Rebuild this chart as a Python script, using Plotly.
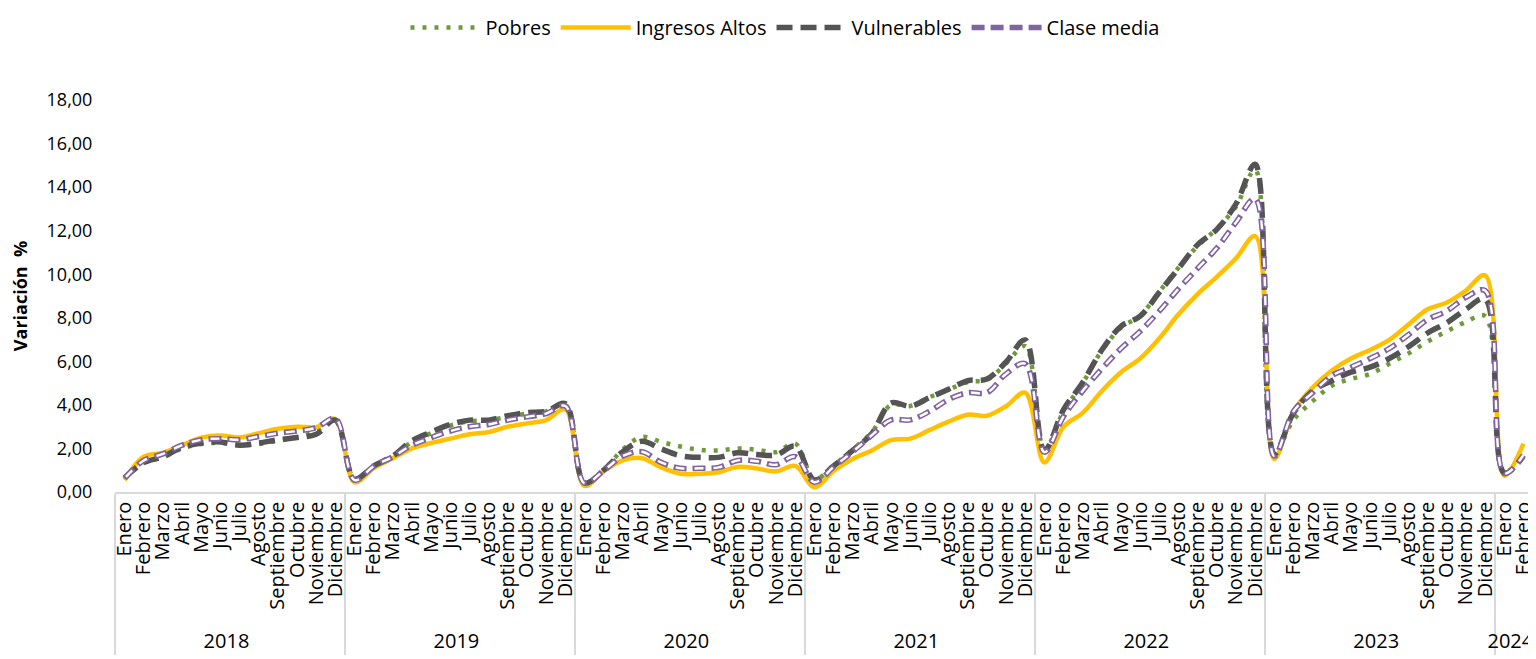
import plotly.graph_objects as go

years = ["2018", "2019", "2020", "2021", "2022", "2023", "2024"]
months = ["Enero", "Febrero", "Marzo", "Abril", "Mayo", "Junio", "Julio",
          "Agosto", "Septiembre", "Octubre", "Noviembre", "Diciembre"]
months_2024 = ["Enero", "Febrero"]

pobres = [0.60, 1.35, 1.60, 2.00, 2.20, 2.25, 2.15, 2.20, 2.35, 2.50, 2.80, 3.25,
          0.62, 1.20, 1.65, 2.30, 2.70, 3.05, 3.25, 3.30, 3.45, 3.60, 3.70, 4.00,
          0.45, 1.02, 1.95, 2.53, 2.30, 2.09, 1.94, 1.91, 2.00, 1.94, 1.83, 2.22,
          0.58, 1.22, 1.95, 2.75, 4.00, 3.95, 4.35, 4.70, 5.05, 5.15, 5.90, 6.70,
          1.95, 3.70, 5.00, 6.50, 7.55, 8.10, 9.20, 10.30, 11.30, 12.10, 13.10, 14.80,
          1.80, 3.31, 4.17, 4.88, 5.19, 5.42, 5.89, 6.36, 6.91, 7.38, 7.81, 8.08,
          0.90, 1.75]
ingresos_altos = [0.55, 1.62, 1.80, 2.15, 2.50, 2.60, 2.50, 2.70, 2.90, 3.00, 2.98, 3.35,
                  0.45, 1.10, 1.55, 2.00, 2.25, 2.45, 2.65, 2.75, 3.00, 3.15, 3.30, 3.80,
                  0.28, 0.95, 1.45, 1.55, 1.13, 0.84, 0.84, 0.91, 1.15, 1.08, 0.95, 1.20,
                  0.22, 0.97, 1.52, 1.91, 2.38, 2.45, 2.84, 3.23, 3.55, 3.50, 3.94, 4.56,
                  1.36, 3.00, 3.63, 4.64, 5.50, 6.13, 7.06, 8.16, 9.09, 9.88, 10.73, 11.75,
                  1.52, 3.70, 4.80, 5.58, 6.13, 6.52, 6.98, 7.69, 8.39, 8.70, 9.25, 9.95,
                  0.75, 2.22]
vulnerables = [0.65, 1.35, 1.62, 2.05, 2.25, 2.30, 2.15, 2.25, 2.40, 2.50, 2.65, 3.30,
               0.60, 1.20, 1.65, 2.35, 2.75, 3.10, 3.30, 3.30, 3.50, 3.65, 3.70, 4.05,
               0.42, 1.00, 1.85, 2.33, 1.98, 1.67, 1.59, 1.59, 1.80, 1.72, 1.70, 2.10,
               0.55, 1.20, 1.91, 2.69, 4.09, 3.94, 4.33, 4.72, 5.11, 5.19, 5.97, 6.98,
               1.91, 3.78, 5.03, 6.52, 7.61, 8.08, 9.17, 10.27, 11.36, 12.06, 13.23, 15.05,
               1.75, 3.63, 4.64, 5.11, 5.50, 5.73, 6.13, 6.67, 7.30, 7.77, 8.39, 8.86,
               0.88, 1.65]
clase_media = [0.62, 1.45, 1.75, 2.15, 2.40, 2.45, 2.40, 2.55, 2.70, 2.80, 2.95, 3.38,
               0.55, 1.18, 1.62, 2.15, 2.50, 2.80, 3.00, 3.10, 3.30, 3.45, 3.60, 3.95,
               0.40, 0.98, 1.65, 1.85, 1.36, 1.09, 1.09, 1.13, 1.45, 1.41, 1.25, 1.62,
               0.45, 1.15, 1.85, 2.61, 3.31, 3.31, 3.70, 4.25, 4.56, 4.56, 5.42, 5.89,
               1.83, 3.47, 4.64, 5.66, 6.59, 7.38, 8.31, 9.33, 10.27, 11.20, 12.38, 13.47,
               1.65, 3.70, 4.56, 5.34, 5.73, 6.13, 6.59, 7.22, 7.92, 8.31, 8.94, 9.25,
               0.85, 1.70]

x_year = []
x_month = []
for y in years:
    ms = months_2024 if y == "2024" else months
    for m in ms:
        x_year.append(y)
        x_month.append(m)
x = [x_year, x_month]
n_points = len(x_month)

FONT = "Open Sans"

fig = go.Figure()
fig.add_trace(go.Scatter(x=x, y=pobres, name="Pobres", mode="lines",
                         line=dict(color="#6F9A3C", width=4.5, dash="4px,8px", shape="spline")))
fig.add_trace(go.Scatter(x=x, y=ingresos_altos, name="Ingresos Altos", mode="lines",
                         line=dict(color="#FFC000", width=4.5, shape="spline")))
fig.add_trace(go.Scatter(x=x, y=vulnerables, name="Vulnerables", mode="lines",
                         line=dict(color="#545454", width=5.5, dash="16px,8px", shape="spline")))
fig.add_trace(go.Scatter(x=x, y=clase_media, name="Clase media", mode="lines",
                         line=dict(color="#8064A2", width=5.5, dash="13px,6px", shape="spline")))
fig.add_trace(go.Scatter(x=x, y=clase_media, name="Clase media", mode="lines",
                         showlegend=False, hoverinfo="skip",
                         line=dict(color="#FFFFFF", width=2.4, dash="0px,2px,9px,8px", shape="spline")))

# The page body has an 8px default margin, so the figure is sized to fit the window.
fig.update_layout(
    width=1528, height=651,
    margin=dict(l=107, r=3, t=92, b=167),
    paper_bgcolor="white", plot_bgcolor="white",
    separators=",.",
    font=dict(family=FONT, size=17, color="#000000"),
    showlegend=True,
    legend=dict(orientation="h", xref="container", yref="container",
                x=0.5085, xanchor="center", y=1.0, yanchor="top",
                font=dict(family=FONT, size=20, color="#000000"),
                itemwidth=70, traceorder="normal"),
)
fig.update_yaxes(range=[0, 18], dtick=2, tickformat=".2f", showgrid=False,
                 zeroline=False, showline=False, ticks="outside", ticklen=18,
                 tickcolor="rgba(0,0,0,0)", tickfont=dict(family=FONT, size=18),
                 title=dict(text="<b>Variación  %</b>", font=dict(family=FONT, size=18), standoff=24))
fig.update_xaxes(type="multicategory", showgrid=False, zeroline=False,
                 range=[-0.5, n_points - 0.5], dtick=1, tick0=0,
                 showline=True, linecolor="#D9D9D9", linewidth=1.5,
                 showdividers=True, dividercolor="#D9D9D9", dividerwidth=1.5,
                 tickangle=-90, tickfont=dict(family=FONT, size=20),
                 automargin=False, ticks="")

fig.write_html("out.html")
